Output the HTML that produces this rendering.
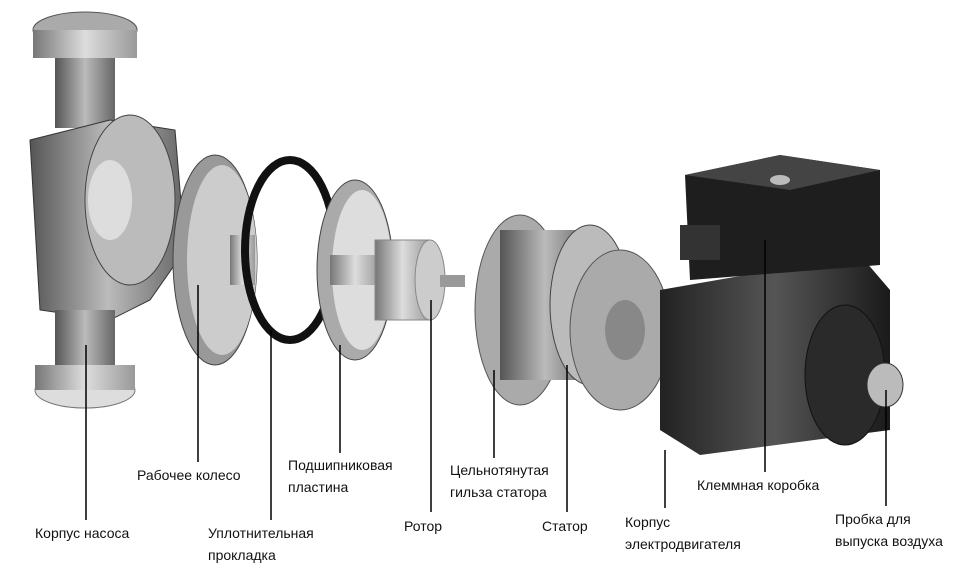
<!DOCTYPE html>
<html><head><meta charset="utf-8"><style>
body{margin:0;background:#fff;width:978px;height:575px;overflow:hidden;position:relative;font-family:"Liberation Sans",sans-serif}
svg{position:absolute;left:0;top:0}
.t{position:absolute;font-size:14px;color:#111;line-height:22px;white-space:nowrap}
</style></head><body>
<svg width="978" height="575" viewBox="0 0 978 575">
<defs>
<linearGradient id="g1" x1="0" x2="1"><stop offset="0" stop-color="#555"/><stop offset=".5" stop-color="#bbb"/><stop offset="1" stop-color="#666"/></linearGradient>
<linearGradient id="g2" x1="0" x2="1"><stop offset="0" stop-color="#777"/><stop offset=".5" stop-color="#ddd"/><stop offset="1" stop-color="#999"/></linearGradient>
<linearGradient id="g3" x1="0" x2="1"><stop offset="0" stop-color="#222"/><stop offset=".5" stop-color="#555"/><stop offset="1" stop-color="#1a1a1a"/></linearGradient>
</defs>
<!-- pump body -->
<ellipse cx="85" cy="30" rx="52" ry="18" fill="#aaa" stroke="#555"/>
<rect x="33" y="30" width="104" height="28" fill="url(#g2)"/>
<rect x="55" y="58" width="60" height="70" fill="url(#g1)"/>
<path d="M30 140 L110 120 L175 130 L185 250 L150 300 L110 320 L40 310 Z" fill="url(#g1)" stroke="#333"/>
<ellipse cx="130" cy="200" rx="45" ry="85" fill="#bbb" stroke="#444"/>
<ellipse cx="110" cy="200" rx="22" ry="40" fill="#ddd"/>
<rect x="55" y="310" width="60" height="60" fill="url(#g1)"/>
<ellipse cx="85" cy="390" rx="50" ry="18" fill="#ddd" stroke="#777"/>
<rect x="35" y="365" width="100" height="25" fill="url(#g2)"/>
<!-- impeller -->
<ellipse cx="215" cy="260" rx="42" ry="105" fill="#999" stroke="#444"/>
<ellipse cx="222" cy="260" rx="35" ry="95" fill="#ccc"/>
<rect x="230" y="235" width="25" height="50" fill="url(#g2)"/>
<!-- seal ring -->
<ellipse cx="290" cy="250" rx="45" ry="90" fill="none" stroke="#111" stroke-width="8"/>
<!-- bearing plate -->
<ellipse cx="355" cy="270" rx="38" ry="90" fill="#aaa" stroke="#444"/>
<ellipse cx="362" cy="270" rx="30" ry="80" fill="#ddd"/>
<rect x="330" y="255" width="50" height="30" fill="url(#g2)"/>
<!-- rotor -->
<rect x="375" y="240" width="55" height="80" fill="url(#g2)" stroke="#888"/>
<ellipse cx="430" cy="280" rx="15" ry="40" fill="#ccc" stroke="#888"/>
<rect x="440" y="275" width="25" height="12" fill="#999"/>
<!-- sleeve + stator -->
<ellipse cx="520" cy="310" rx="45" ry="95" fill="#aaa" stroke="#555"/>
<rect x="500" y="230" width="90" height="150" fill="url(#g1)"/>
<ellipse cx="590" cy="305" rx="40" ry="80" fill="#bbb" stroke="#444"/>
<ellipse cx="620" cy="330" rx="50" ry="80" fill="#aaa" stroke="#555"/>
<ellipse cx="625" cy="330" rx="20" ry="30" fill="#888"/>
<!-- motor housing -->
<path d="M660 290 L860 255 L890 290 L890 430 L700 455 L660 430 Z" fill="url(#g3)"/>
<ellipse cx="845" cy="375" rx="40" ry="70" fill="#2a2a2a" stroke="#111"/>
<ellipse cx="885" cy="385" rx="18" ry="22" fill="#bbb" stroke="#333"/>
<!-- terminal box -->
<path d="M685 175 L780 155 L880 170 L880 265 L690 280 Z" fill="#1e1e1e"/>
<path d="M685 175 L780 155 L880 170 L790 190 Z" fill="#444"/>
<rect x="680" y="225" width="40" height="35" fill="#333"/>
<ellipse cx="780" cy="180" rx="10" ry="5" fill="#bbb"/>
<!-- leaders -->
<g stroke="#000" stroke-width="1.5">
<line x1="86" y1="345" x2="86" y2="520"/>
<line x1="198" y1="285" x2="198" y2="462"/>
<line x1="271" y1="330" x2="271" y2="520"/>
<line x1="340" y1="345" x2="340" y2="453"/>
<line x1="431" y1="300" x2="431" y2="512"/>
<line x1="494" y1="370" x2="494" y2="458"/>
<line x1="567" y1="365" x2="567" y2="512"/>
<line x1="665" y1="450" x2="665" y2="508"/>
<line x1="765" y1="240" x2="765" y2="472"/>
<line x1="886" y1="390" x2="886" y2="506"/>
</g>
</svg>
<div class="t" style="left:35px;top:522px">Корпус насоса</div>
<div class="t" style="left:137px;top:464px">Рабочее колесо</div>
<div class="t" style="left:208px;top:522px">Уплотнительная<br>прокладка</div>
<div class="t" style="left:288px;top:454px">Подшипниковая<br>пластина</div>
<div class="t" style="left:404px;top:515px">Ротор</div>
<div class="t" style="left:450px;top:459px">Цельнотянутая<br>гильза статора</div>
<div class="t" style="left:542px;top:515px">Статор</div>
<div class="t" style="left:625px;top:511px">Корпус<br>электродвигателя</div>
<div class="t" style="left:697px;top:474px">Клеммная коробка</div>
<div class="t" style="left:835px;top:508px">Пробка для<br>выпуска воздуха</div>
</body></html>
